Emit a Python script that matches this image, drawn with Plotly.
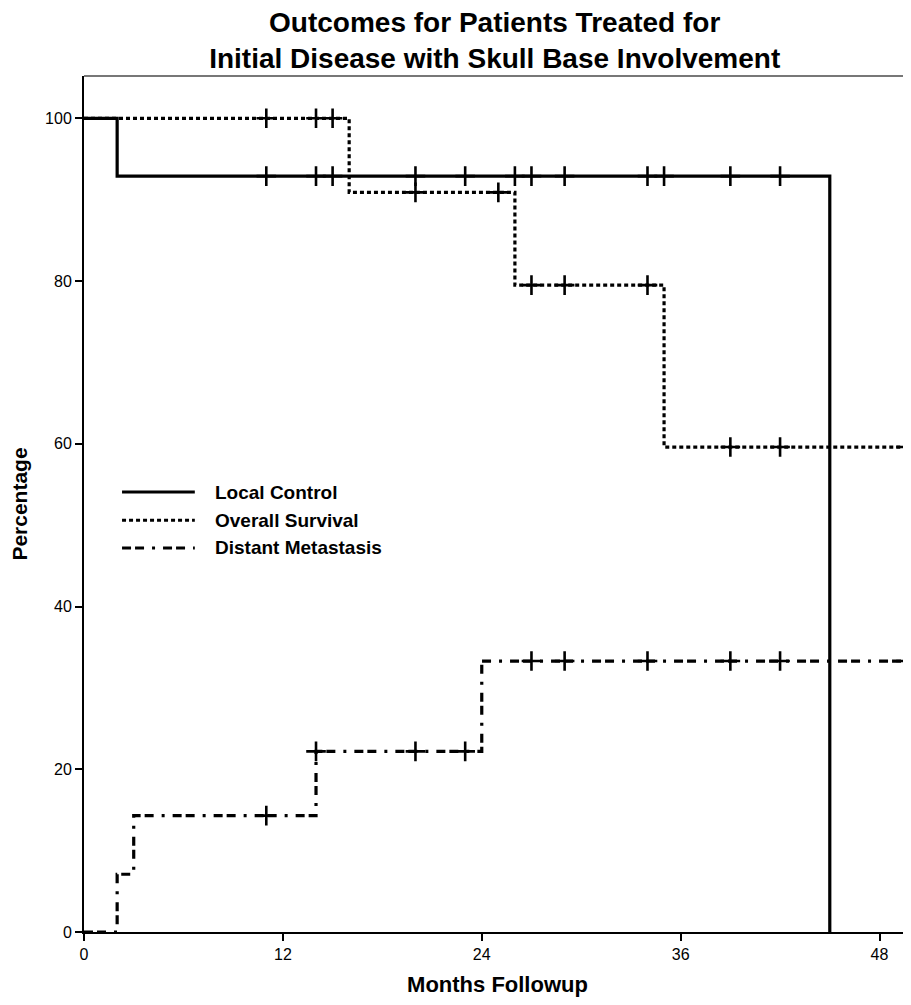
import plotly.graph_objects as go

# ---- data ----
lc_times = [0, 2, 45]
lc_surv = [100, 92.9, 0]
lc_censor = [11, 14, 15, 20, 23, 26, 27, 29, 34, 35, 39, 42]

os_times = [0, 16, 26, 35, 49.9]
os_surv = [100, 90.9, 79.5, 59.6, 59.6]
os_censor = [11, 14, 15, 20, 25, 27, 29, 34, 39, 42, 49.6]

dm_times = [0, 2, 3, 14, 24, 49.9]
dm_cum = [0, 7.1, 14.3, 22.2, 33.3, 33.3]
dm_censor = [11, 14, 20, 23, 27, 29, 34, 39, 42, 49.6]

x_ticks = [0, 12, 24, 36, 48]
y_ticks = [0, 20, 40, 60, 80, 100]

series_names = ["Local Control", "Overall Survival", "Distant Metastasis"]

FONT = "Liberation Sans, Arial, sans-serif"


def step_value(times, vals, t):
    v = vals[0]
    for ti, vi in zip(times, vals):
        if t >= ti:
            v = vi
    return v


DM_DASH = "9px,4px,9px,8px,3px,8px"
styles = [
    dict(color="black", width=3.2, dash="solid"),
    dict(color="black", width=3.2, dash="4px,3px"),
    dict(color="black", width=3.2, dash=DM_DASH),
]

fig = go.Figure()
curves = [(lc_times, lc_surv, lc_censor), (os_times, os_surv, os_censor), (dm_times, dm_cum, dm_censor)]
for (t, v, c), st, nm in zip(curves, styles, series_names):
    fig.add_trace(go.Scatter(x=t, y=v, mode="lines", line=dict(shape="hv", **st),
                             name=nm, showlegend=False, hoverinfo="skip"))
    fig.add_trace(go.Scatter(x=c, y=[step_value(t, v, ci) for ci in c], mode="markers",
                             marker=dict(symbol="cross-thin", size=14,
                                         line=dict(color="black", width=2.6)),
                             showlegend=False, hoverinfo="skip"))

# manual legend (long line samples like the original)
leg_y = [0.514, 0.481, 0.4486]
for yy, st, nm in zip(leg_y, styles, series_names):
    fig.add_shape(type="line", xref="paper", yref="paper", x0=0.046, x1=0.134, y0=yy, y1=yy,
                  line=dict(color="black", width=3.2, dash=st["dash"]))
    fig.add_annotation(xref="paper", yref="paper", x=0.156, y=yy, text=nm, showarrow=False,
                       xanchor="left", yanchor="middle",
                       font=dict(family=FONT, size=19, color="black", weight="bold"))

# top border
fig.add_shape(type="line", xref="paper", yref="paper", x0=0, x1=1, y0=1, y1=1,
              line=dict(color="#777", width=2))

fig.update_layout(
    width=903, height=989,
    margin=dict(l=76, r=0, t=68, b=65),
    paper_bgcolor="white", plot_bgcolor="white",
    title=dict(text="<b>Outcomes for Patients Treated for<br>Initial Disease with Skull Base Involvement</b>",
               xref="container", yref="container",
               x=0.539, xanchor="center", y=0.976, yanchor="middle",
               font=dict(family=FONT, size=28, color="black")),
    font=dict(family=FONT, color="black"),
)
fig.update_xaxes(range=[0, 49.9], tickvals=x_ticks, ticks="outside", ticklen=7, tickwidth=1.5,
                 tickcolor="black", showline=True, linecolor="black", linewidth=2,
                 showgrid=False, zeroline=False, tickfont=dict(size=16, family=FONT),
                 title=dict(text="<b>Months Followup</b>", font=dict(size=22, family=FONT), standoff=18))
fig.update_yaxes(range=[0, 105.2], tickvals=y_ticks, ticks="outside", ticklen=7, tickwidth=1.5,
                 tickcolor="black", showline=True, linecolor="black", linewidth=2,
                 showgrid=False, zeroline=False, tickfont=dict(size=16, family=FONT),
                 title=dict(text="<b>Percentage</b>", font=dict(size=21, family=FONT), standoff=16))

fig.write_html("out.html")
